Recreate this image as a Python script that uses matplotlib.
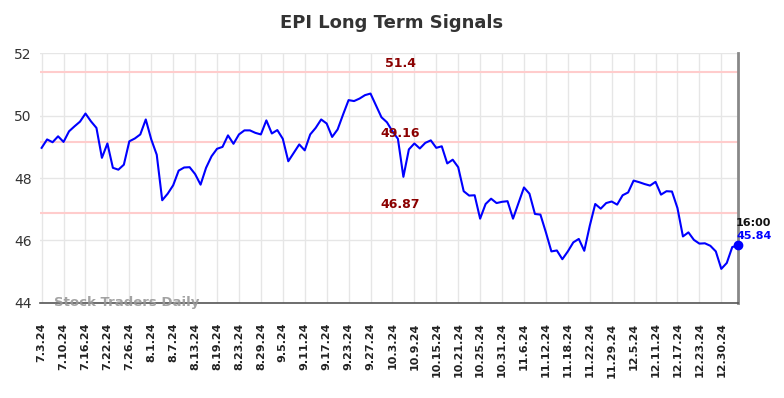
import matplotlib
matplotlib.use("Agg")
import matplotlib.pyplot as plt
import pandas as pd
import numpy as np

# Trading days 2024-07-03 .. 2025-01-03 (US market holidays removed)
holidays = ["2024-07-04", "2024-09-02", "2024-11-28", "2024-12-25", "2025-01-01"]
dates = [d for d in pd.bdate_range("2024-07-03", "2025-01-03") if d.strftime("%Y-%m-%d") not in holidays]

prices = [
    48.97, 49.24, 49.15, 49.34, 49.16, 49.50, 49.66, 49.81, 50.07, 49.82,
    49.61, 48.65, 49.11, 48.33, 48.27, 48.43, 49.18, 49.27, 49.40, 49.88,
    49.24, 48.75, 47.29, 47.50, 47.77, 48.24, 48.34, 48.35, 48.13, 47.79,
    48.33, 48.70, 48.94, 49.00, 49.37, 49.10, 49.40, 49.53, 49.53, 49.45,
    49.40, 49.85, 49.43, 49.54, 49.26, 48.54, 48.81, 49.08, 48.89, 49.40,
    49.61, 49.88, 49.75, 49.32, 49.56, 50.04, 50.50, 50.47, 50.55, 50.66,
    50.71, 50.33, 49.95, 49.79, 49.50, 49.26, 48.04, 48.92, 49.11, 48.95,
    49.13, 49.21, 48.97, 49.02, 48.47, 48.59, 48.35, 47.58, 47.44, 47.45,
    46.70, 47.17, 47.34, 47.20, 47.24, 47.26, 46.70, 47.20, 47.70, 47.50,
    46.85, 46.83, 46.26, 45.65, 45.68, 45.40, 45.65, 45.94, 46.05, 45.67,
    46.47, 47.17, 47.02, 47.20, 47.25, 47.15, 47.45, 47.54, 47.92, 47.87,
    47.81, 47.76, 47.88, 47.47, 47.58, 47.57, 47.04, 46.13, 46.26, 46.02,
    45.90, 45.91, 45.83, 45.65, 45.09, 45.28, 45.79, 45.84,
]
signal_levels = [51.4, 49.16, 46.87]
signal_labels = ["51.4", "49.16", "46.87"]
y_ticks = [44, 46, 48, 50, 52]
title = "EPI Long Term Signals"
last_time = "16:00"

n = len(prices)
x = np.arange(n)
tick_idx = list(range(0, n, 4))
tick_labels = [f"{dates[i].month}.{dates[i].day}.{dates[i].strftime('%y')}" for i in tick_idx]

fig = plt.figure(figsize=(7.84, 3.98), dpi=100)
ax = fig.add_axes([0.051, 0.239, 0.890, 0.627])

ax.set_xlim(-0.3, n - 1)
ax.set_ylim(44, 52)
ax.set_xticks(tick_idx)
ax.set_xticklabels(tick_labels, rotation=90, fontsize=8, fontweight="bold", color="#222222")
ax.set_yticks(y_ticks)
ax.set_yticklabels([str(t) for t in y_ticks], fontsize=10, color="#333333")
ax.tick_params(axis="x", length=0, pad=14)
ax.tick_params(axis="y", length=0, pad=6)
ax.grid(True, color="#e6e6e6", linewidth=1)
ax.set_axisbelow(True)

for s in ["top", "left"]:
    ax.spines[s].set_visible(False)
ax.spines["bottom"].set_color("#555555")
ax.spines["bottom"].set_linewidth(1.2)
ax.spines["right"].set_color("#888888")
ax.spines["right"].set_linewidth(2)

mid = 65.5
for lvl, lab in zip(signal_levels, signal_labels):
    ax.axhline(lvl, color="#ffcccc", linewidth=1.5, zorder=1)
    ax.text(mid, lvl + 0.07, lab, ha="center", va="bottom", fontsize=9,
            fontweight="bold", color="#8b0000", zorder=4)

ax.plot(x, prices, color="#0000ff", linewidth=1.5, zorder=3)
ax.plot([x[-1]], [prices[-1]], "o", color="#0000ff", markersize=6, zorder=5, clip_on=False)

ax.text(x[-1] - 0.3, prices[-1] + 0.13, f"{prices[-1]:.2f}", ha="left", va="bottom",
        fontsize=8, fontweight="bold", color="#0000ff", clip_on=False)
ax.text(x[-1] - 0.3, prices[-1] + 0.56, last_time, ha="left", va="bottom",
        fontsize=8, fontweight="bold", color="#111111", clip_on=False)

ax.text(2.2, 44.02, "Stock Traders Daily", ha="left", va="center", fontsize=9.5,
        fontweight="bold", color="#999999", alpha=0.9, zorder=6)

fig.suptitle(title, x=0.5, y=0.965, fontsize=13, fontweight="bold", color="#333333")

fig.savefig("out.png", dpi=100)
